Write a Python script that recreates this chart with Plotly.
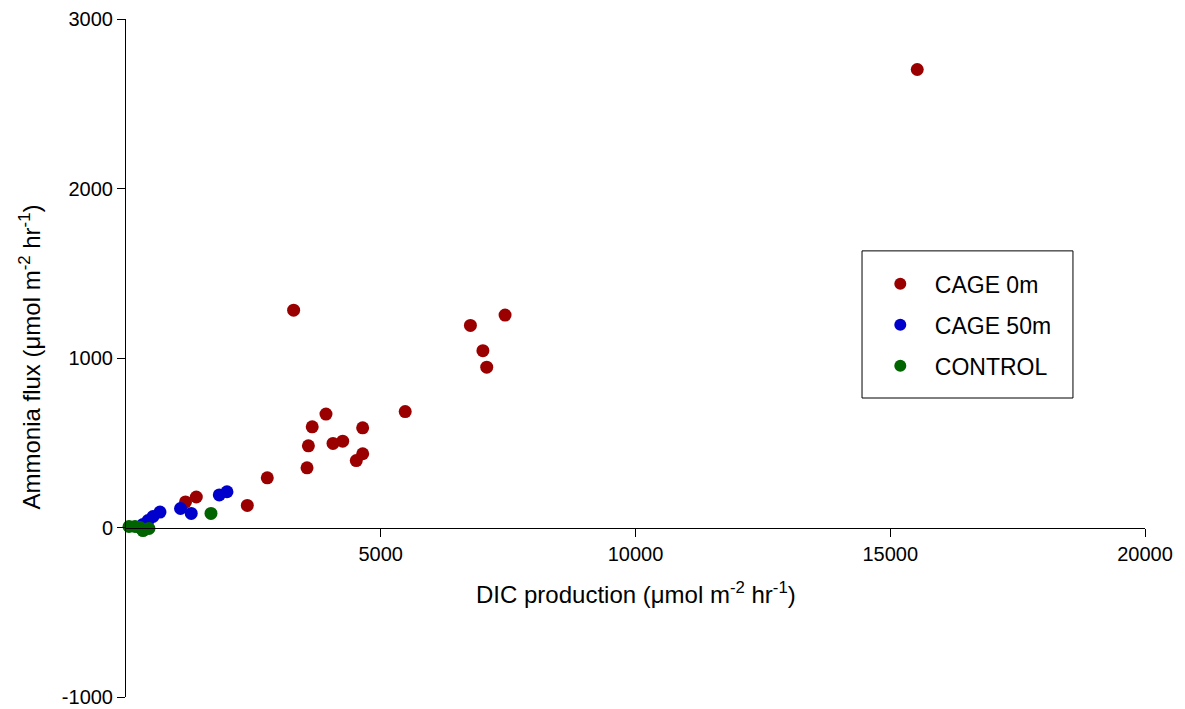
import plotly.graph_objects as go

# ---- data ----
cage0_x = [15530, 3290, 6760, 7440, 7005, 7080, 5480, 3925, 3655, 4645,
           3580, 4063, 4253, 4646, 4520, 3553, 2773, 2381, 1380, 1168]
cage0_y = [2702, 1282, 1192, 1253, 1043, 946, 684, 669, 594, 588,
           482, 496, 509, 435, 395, 352, 293, 130, 180, 151]

cage50_x = [1982, 1831, 1070, 1280, 667, 530, 432, 334, 275]
cage50_y = [211, 192, 112, 83, 91, 65, 41, 18, 0]

control_x = [59, 177, 275, 334, 451, 1668]
control_y = [6, 6, 0, -18, -6, 83]

series_names = ["CAGE 0m", "CAGE 50m", "CONTROL"]
series_colors = ["#9B0000", "#0000CC", "#006400"]

x_ticks = [5000, 10000, 15000, 20000]
y_ticks = [-1000, 0, 1000, 2000, 3000]

FONT = "Liberation Sans, Arial, sans-serif"

fig = go.Figure()
for i, (xs, ys) in enumerate([(cage0_x, cage0_y), (cage50_x, cage50_y), (control_x, control_y)]):
    fig.add_trace(go.Scatter(
        x=xs, y=ys, mode="markers", name=series_names[i],
        legendgroup=series_names[i],
        marker=dict(color=series_colors[i], size=13, line=dict(width=0)),
        cliponaxis=False,
    ))

# page body has an 8px default margin, so the figure is sized to fit the window
fig.update_layout(
    width=1177, height=701,
    margin=dict(l=118, r=40, t=11, b=12, autoexpand=False),
    plot_bgcolor="white", paper_bgcolor="white",
    font=dict(family=FONT, size=20, color="black"),
    showlegend=True,
    legend=dict(x=0.726, y=0.641, xanchor="left", yanchor="top",
                bgcolor="rgba(0,0,0,0)", borderwidth=0,
                font=dict(size=23), tracegroupgap=8, traceorder="grouped",
                itemsizing="constant", itemwidth=59),
    xaxis=dict(range=[0, 20000], tickvals=x_ticks, ticktext=[str(v) for v in x_ticks],
               showgrid=False, zeroline=False, showline=True, linecolor="black", linewidth=1,
               ticks="outside", ticklen=8, tickcolor="black", automargin=False,
               anchor="free", position=0.25, tickfont=dict(size=20)),
    yaxis=dict(range=[-1000, 3000], tickvals=y_ticks, ticktext=[str(v) for v in y_ticks],
               showgrid=False, zeroline=False, showline=True, linecolor="black", linewidth=1,
               ticks="outside", ticklen=8, tickcolor="black", automargin=False,
               tickfont=dict(size=20)),
    shapes=[dict(type="rect", xref="paper", yref="paper",
                 x0=0.7223, x1=0.9293, y0=0.441, y1=0.658,
                 line=dict(color="black", width=1), fillcolor="rgba(0,0,0,0)")],
    annotations=[
        dict(text="DIC production (\u03bcmol m<sup>-2</sup> hr<sup>-1</sup>)",
             xref="paper", yref="paper", x=0.5, y=0.153, xanchor="center", yanchor="middle",
             showarrow=False, font=dict(size=24)),
        dict(text="Ammonia flux (\u03bcmol m<sup>-2</sup> hr<sup>-1</sup>)",
             xref="paper", yref="paper", x=-0.094, y=0.501, xanchor="center", yanchor="middle",
             textangle=-90, showarrow=False, font=dict(size=24)),
    ],
)

fig.write_html("out.html")
